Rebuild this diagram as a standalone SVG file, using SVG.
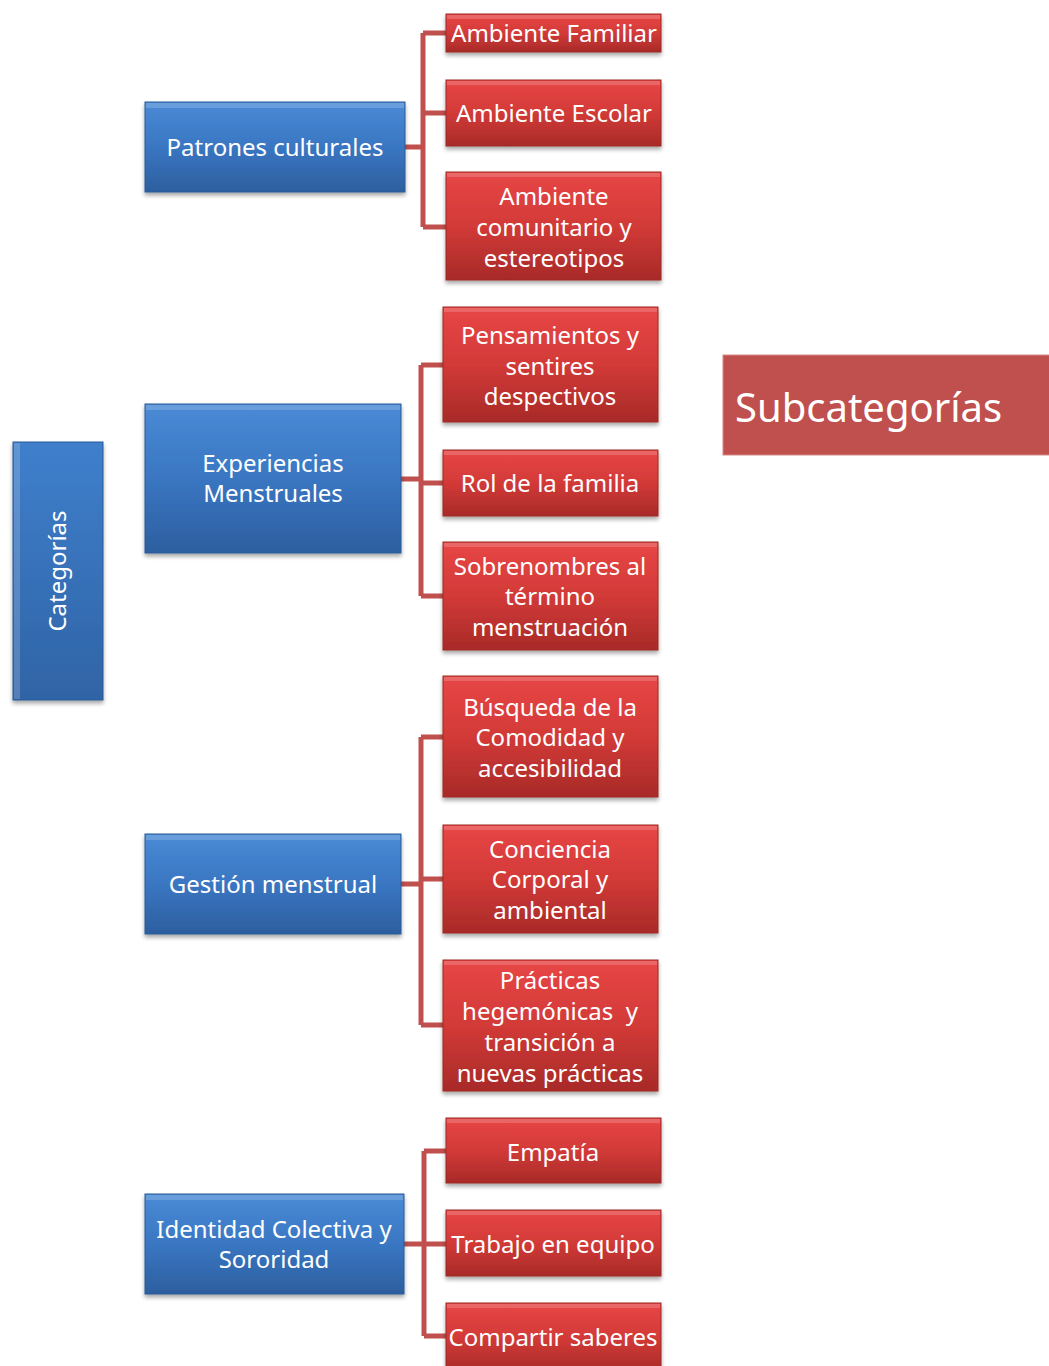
<svg xmlns="http://www.w3.org/2000/svg" width="1049" height="1366" viewBox="0 0 1049 1366">
<defs>
<linearGradient id="gBlue" x1="0" y1="0" x2="0" y2="1">
<stop offset="0" stop-color="#4a8ad6"/>
<stop offset="0.5" stop-color="#3a76c2"/>
<stop offset="1" stop-color="#2c5f9f"/>
</linearGradient>
<linearGradient id="gRed" x1="0" y1="0" x2="0" y2="1">
<stop offset="0" stop-color="#e84646"/>
<stop offset="0.5" stop-color="#d23a37"/>
<stop offset="1" stop-color="#a82a28"/>
</linearGradient>
<linearGradient id="gBlueV" x1="0" y1="0" x2="0" y2="1">
<stop offset="0" stop-color="#3f7fcc"/>
<stop offset="1" stop-color="#2f64a6"/>
</linearGradient>
<filter id="sh" x="-10%" y="-10%" width="120%" height="130%">
<feGaussianBlur in="SourceAlpha" stdDeviation="2"/>
<feOffset dx="0" dy="3" result="b"/>
<feComponentTransfer><feFuncA type="linear" slope="0.35"/></feComponentTransfer>
<feMerge><feMergeNode/><feMergeNode in="SourceGraphic"/></feMerge>
</filter>
</defs>
<style>
.blue{fill:url(#gBlue);stroke:#2a5a96;stroke-width:1;filter:url(#sh)}
.red{fill:url(#gRed);stroke:#9c2826;stroke-width:1;filter:url(#sh)}
.hl{fill:#ffffff;opacity:0.18}
.t{font-family:"Noto Sans","Open Sans",sans-serif;font-size:24px;fill:#ffffff;text-anchor:middle}
.con{fill:none;stroke:#c0504d;stroke-width:5;stroke-linejoin:miter}
</style>

<g id="connectors">
<path class="con" d="M405 147 H423 M423 33 V227 M423 33 H447 M423 113 H447 M423 227 H447"/>
<path class="con" d="M401 479 H421 M421 365 V596 M421 365 H444 M421 483 H444 M421 596 H444"/>
<path class="con" d="M401 884 H421 M421 737 V1025 M421 737 H444 M421 879 H444 M421 1025 H444"/>
<path class="con" d="M404 1244 H424 M424 1151 V1336 M424 1151 H447 M424 1244 H447 M424 1336 H447"/>
</g>

<g id="categorias">
<rect class="blue" x="13" y="442" width="90" height="258" style="fill:url(#gBlueV)"/>
<rect class="hl" x="14" y="443" width="6" height="256"/>
<text class="t" transform="translate(66 571) rotate(-90)">Categorías</text>
</g>

<g id="subcategorias">
<rect x="723" y="355" width="330" height="100" fill="#c0504d" stroke="#d68a88" stroke-width="1"/>
<text x="735" y="422" style="font-family:'Noto Sans','Open Sans',sans-serif;font-size:40px;fill:#ffffff">Subcategorías</text>
</g>

<g id="patrones">
<rect class="blue" x="145" y="102" width="260" height="90"/>
<rect class="hl" x="146" y="103" width="258" height="5"/>
<text class="t" x="275" y="156">Patrones culturales</text>
</g>
<g id="experiencias">
<rect class="blue" x="145" y="404" width="256" height="149"/>
<rect class="hl" x="146" y="405" width="254" height="5"/>
<text class="t" x="273" y="472">Experiencias</text>
<text class="t" x="273" y="502">Menstruales</text>
</g>
<g id="gestion">
<rect class="blue" x="145" y="834" width="256" height="100"/>
<rect class="hl" x="146" y="835" width="254" height="5"/>
<text class="t" x="273" y="893">Gestión menstrual</text>
</g>
<g id="identidad">
<rect class="blue" x="145" y="1194" width="259" height="100"/>
<rect class="hl" x="146" y="1195" width="257" height="5"/>
<text class="t" x="274" y="1238">Identidad Colectiva y</text>
<text class="t" x="274" y="1268">Sororidad</text>
</g>

<g id="ambiente-familiar">
<rect class="red" x="446" y="14" width="215" height="38"/>
<rect class="hl" x="447" y="15" width="213" height="4"/>
<text class="t" x="554" y="42">Ambiente Familiar</text>
</g>
<g id="ambiente-escolar">
<rect class="red" x="446" y="80" width="215" height="66"/>
<rect class="hl" x="447" y="81" width="213" height="4"/>
<text class="t" x="554" y="122">Ambiente Escolar</text>
</g>
<g id="ambiente-comunitario">
<rect class="red" x="446" y="172" width="215" height="108"/>
<rect class="hl" x="447" y="173" width="213" height="4"/>
<text class="t" x="554" y="205">Ambiente</text>
<text class="t" x="554" y="236">comunitario y</text>
<text class="t" x="554" y="267">estereotipos</text>
</g>

<g id="pensamientos">
<rect class="red" x="443" y="307" width="215" height="115"/>
<rect class="hl" x="444" y="308" width="213" height="4"/>
<text class="t" x="550" y="344">Pensamientos y</text>
<text class="t" x="550" y="375">sentires</text>
<text class="t" x="550" y="405">despectivos</text>
</g>
<g id="rol-familia">
<rect class="red" x="443" y="450" width="215" height="66"/>
<rect class="hl" x="444" y="451" width="213" height="4"/>
<text class="t" x="550" y="492">Rol de la familia</text>
</g>
<g id="sobrenombres">
<rect class="red" x="443" y="542" width="215" height="108"/>
<rect class="hl" x="444" y="543" width="213" height="4"/>
<text class="t" x="550" y="575">Sobrenombres al</text>
<text class="t" x="550" y="605">término</text>
<text class="t" x="550" y="636">menstruación</text>
</g>

<g id="busqueda">
<rect class="red" x="443" y="676" width="215" height="121"/>
<rect class="hl" x="444" y="677" width="213" height="4"/>
<text class="t" x="550" y="716">Búsqueda de la</text>
<text class="t" x="550" y="746">Comodidad y</text>
<text class="t" x="550" y="777">accesibilidad</text>
</g>
<g id="conciencia">
<rect class="red" x="443" y="825" width="215" height="108"/>
<rect class="hl" x="444" y="826" width="213" height="4"/>
<text class="t" x="550" y="858">Conciencia</text>
<text class="t" x="550" y="888">Corporal y</text>
<text class="t" x="550" y="919">ambiental</text>
</g>
<g id="practicas">
<rect class="red" x="443" y="960" width="215" height="131"/>
<rect class="hl" x="444" y="961" width="213" height="4"/>
<text class="t" x="550" y="989">Prácticas</text>
<text class="t" x="550" y="1020" xml:space="preserve">hegemónicas  y</text>
<text class="t" x="550" y="1051">transición a</text>
<text class="t" x="550" y="1082">nuevas prácticas</text>
</g>

<g id="empatia">
<rect class="red" x="446" y="1118" width="215" height="65"/>
<rect class="hl" x="447" y="1119" width="213" height="4"/>
<text class="t" x="553" y="1161">Empatía</text>
</g>
<g id="trabajo">
<rect class="red" x="446" y="1210" width="215" height="66"/>
<rect class="hl" x="447" y="1211" width="213" height="4"/>
<text class="t" x="553" y="1253">Trabajo en equipo</text>
</g>
<g id="compartir">
<rect class="red" x="446" y="1303" width="215" height="70"/>
<rect class="hl" x="447" y="1304" width="213" height="4"/>
<text class="t" x="553" y="1346">Compartir saberes</text>
</g>
</svg>
